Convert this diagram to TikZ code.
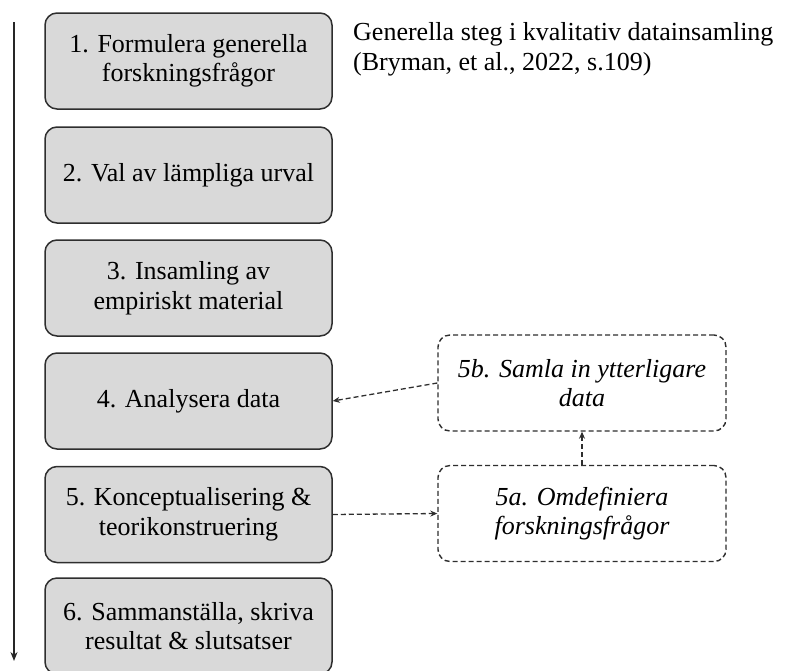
\documentclass[tikz,border=0pt]{standalone}
\usepackage{fontspec}
\setmainfont{Liberation Serif}
\usetikzlibrary{arrows.meta}
\definecolor{boxfill}{HTML}{D9D9D9}
\definecolor{boxline}{HTML}{2E2E2E}
\begin{document}
\begin{tikzpicture}[x=1pt,y=-1pt,
  stepbox/.style={draw=boxline, fill=boxfill, rounded corners=12pt, line width=1.5pt,
    minimum width=287pt, minimum height=96pt, align=center, inner sep=0pt,
    font=\fontsize{26}{29.5}\selectfont},
  dashbox/.style={draw=boxline, fill=white, dash pattern=on 5pt off 3pt, rounded corners=12pt,
    line width=1.4pt, minimum width=288pt, minimum height=96pt, align=center, inner sep=0pt,
    font=\fontsize{26}{29.5}\selectfont\itshape},
  link/.style={draw=boxline, line width=1.3pt, dash pattern=on 5pt off 3pt,
    -{Stealth[length=7pt,width=6pt]}},
  flow/.style={draw=black!85, line width=1.4pt, -{Stealth[length=9pt,width=7pt]}}]
\useasboundingbox (0,0) rectangle (787,670);

\node[stepbox] (b1) at (188.5,61) {1. Formulera generella\\forskningsfrågor};
\node[stepbox] (b2) at (188.5,175) {2. Val av lämpliga urval};
\node[stepbox] (b3) at (188.5,288) {3. Insamling av\\empiriskt material};
\node[stepbox] (b4) at (188.5,401) {4. Analysera data};
\node[stepbox] (b5) at (188.5,514.5) {5. Konceptualisering \&\\teorikonstruering};
\node[stepbox] (b6) at (188.5,626) {6. Sammanställa, skriva\\resultat \& slutsatser};

\node[dashbox] (b5b) at (582,383) {5b. Samla in ytterligare\\data};
\node[dashbox] (b5a) at (582,513.5) {5a. Omdefiniera\\forskningsfrågor};

\node[anchor=north west, align=left, inner sep=0pt, font=\fontsize{26}{30}\selectfont] (title) at (353,22)
  {Generella steg i kvalitativ datainsamling\\(Bryman, et al., 2022, s.109)};

\coordinate (ftop) at (14,22);
\coordinate (fbot) at (14,661);
\draw[flow] (ftop) -- (fbot);

\draw[link] (b5b.west) -- (b4.east);
\draw[link] (b5.east) -- (b5a.west);
\draw[link] (b5a.north) -- (b5b.south);
\end{tikzpicture}
\end{document}
